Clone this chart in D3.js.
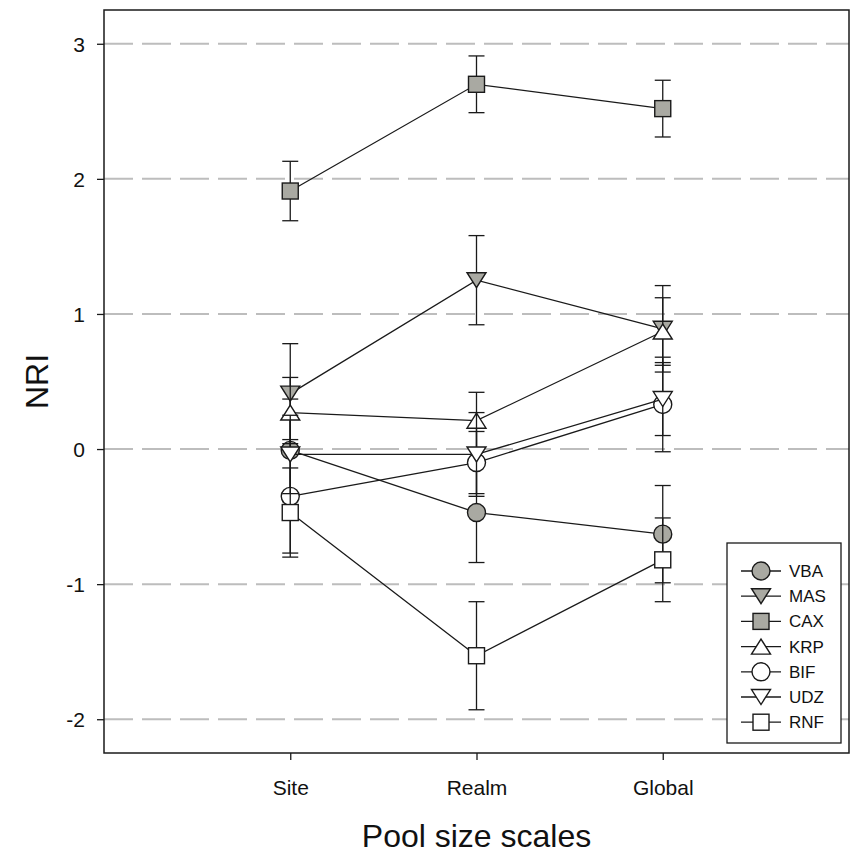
<!DOCTYPE html>
<html>
<head>
<meta charset="utf-8">
<script src="https://cdn.jsdelivr.net/npm/d3@7"></script>
<style>
  body { margin: 0; background: #fff; }
  text { font-family: "Liberation Sans", Arial, sans-serif; }
</style>
</head>
<body>
<svg id="svg" width="853" height="860"></svg>
<script>
const scales = ["Site", "Realm", "Global"];
const names = ["VBA", "MAS", "CAX", "KRP", "BIF", "UDZ", "RNF"];
const shapes = ["circle", "down", "square", "up", "circle", "down", "square"];
const filled = [true, true, true, false, false, false, false];

const vba = [-0.01, -0.47, -0.63];
const vbaErr = [0.38, 0.37, 0.36];
const mas = [0.41, 1.25, 0.89];
const masErr = [0.37, 0.33, 0.32];
const cax = [1.91, 2.70, 2.52];
const caxErr = [0.22, 0.21, 0.21];
const krp = [0.27, 0.21, 0.87];
const krpErr = [0.26, 0.21, 0.25];
const bif = [-0.35, -0.10, 0.33];
const bifErr = [0.42, 0.23, 0.35];
const udz = [-0.04, -0.04, 0.37];
const udzErr = [0.29, 0.31, 0.27];
const rnf = [-0.47, -1.53, -0.82];
const rnfErr = [0.33, 0.40, 0.31];

const yTicks = [-2, -1, 0, 1, 2, 3];

const values = [vba, mas, cax, krp, bif, udz, rnf];
const errors = [vbaErr, masErr, caxErr, krpErr, bifErr, udzErr, rnfErr];

const grey = "#a9a9a2";
const ink = "#1a1a1a";

let svg = d3.select("#svg");
let pLeft = 104, pRight = 849, pTop = 10, pBottom = 753;

let x = d3.scaleLinear().domain([0, 4]).range([pLeft, pRight]);
let y = d3.scaleLinear().domain([-2.25, 3.25]).range([pBottom, pTop]);

// grid lines
svg.append("g").selectAll("line").data(yTicks).join("line")
  .attr("x1", pLeft).attr("x2", pRight)
  .attr("y1", d => y(d)).attr("y2", d => y(d))
  .attr("stroke", "#bdbdbd").attr("stroke-width", 2)
  .attr("stroke-dasharray", "29,9");

// axes
let yAxis = d3.axisLeft(y).tickValues(yTicks).tickSize(7).tickSizeOuter(0).tickFormat(d => String(d));
let gy = svg.append("g").attr("transform", `translate(${pLeft},0)`).call(yAxis);
gy.select(".domain").remove();
gy.selectAll("line").attr("stroke", ink).attr("stroke-width", 1.3);
gy.selectAll("text").attr("x", -19).attr("dy", "0.36em").style("font-size", "21px")
  .style("font-family", "'Liberation Sans', Arial, sans-serif").attr("fill", "#111");

let xAxis = d3.axisBottom(x).tickValues([1, 2, 3]).tickSize(7).tickSizeOuter(0).tickFormat(d => scales[d - 1]);
let gx = svg.append("g").attr("transform", `translate(0,${pBottom})`).call(xAxis);
gx.select(".domain").remove();
gx.selectAll("line").attr("stroke", ink).attr("stroke-width", 1.3);
gx.selectAll("text").attr("y", 27).attr("dy", "0.71em").style("font-size", "21px")
  .style("font-family", "'Liberation Sans', Arial, sans-serif").attr("fill", "#111");

svg.append("rect").attr("x", pLeft).attr("y", pTop).attr("width", pRight - pLeft).attr("height", pBottom - pTop)
  .attr("fill", "none").attr("stroke", ink).attr("stroke-width", 1.5);

svg.append("text").attr("x", (pLeft + pRight) / 2).attr("y", 847).attr("text-anchor", "middle")
  .style("font-size", "32px").attr("fill", "#111").text("Pool size scales");
svg.append("text").attr("transform", `translate(48,${(pTop + pBottom) / 2}) rotate(-90)`).attr("text-anchor", "middle")
  .style("font-size", "32px").attr("fill", "#111").text("NRI");

function marker(g, shape, isFilled, cx, cy) {
  let fill = isFilled ? grey : "#fff";
  let m;
  if (shape === "circle") {
    m = g.append("circle").attr("cx", cx).attr("cy", cy).attr("r", 9);
  } else if (shape === "square") {
    m = g.append("rect").attr("x", cx - 8).attr("y", cy - 8).attr("width", 16).attr("height", 16);
  } else if (shape === "up") {
    m = g.append("path").attr("d", `M${cx - 9.5},${cy + 7.5}L${cx + 9.5},${cy + 7.5}L${cx},${cy - 7.5}Z`);
  } else {
    m = g.append("path").attr("d", `M${cx - 9.5},${cy - 7.5}L${cx + 9.5},${cy - 7.5}L${cx},${cy + 7.5}Z`);
  }
  m.attr("fill", fill).attr("stroke", ink).attr("stroke-width", 1.4);
}

let line = d3.line().x((d, i) => x(i + 1)).y(d => y(d));

for (let s = 0; s < names.length; s++) {
  let g = svg.append("g");
  g.append("path").datum(values[s]).attr("d", line)
    .attr("fill", "none").attr("stroke", ink).attr("stroke-width", 1.3);
  for (let i = 0; i < values[s].length; i++) {
    let cx = x(i + 1);
    let lo = y(values[s][i] - errors[s][i]);
    let hi = y(values[s][i] + errors[s][i]);
    g.append("line").attr("x1", cx).attr("x2", cx).attr("y1", lo).attr("y2", hi)
      .attr("stroke", ink).attr("stroke-width", 1.3);
    g.append("line").attr("x1", cx - 8).attr("x2", cx + 8).attr("y1", lo).attr("y2", lo)
      .attr("stroke", ink).attr("stroke-width", 1.3);
    g.append("line").attr("x1", cx - 8).attr("x2", cx + 8).attr("y1", hi).attr("y2", hi)
      .attr("stroke", ink).attr("stroke-width", 1.3);
  }
  for (let i = 0; i < values[s].length; i++) {
    marker(g, shapes[s], filled[s], x(i + 1), y(values[s][i]));
  }
}

// legend
let lg = svg.append("g");
lg.append("rect").attr("x", 727).attr("y", 543).attr("width", 114).attr("height", 200)
  .attr("fill", "#fff").attr("stroke", ink).attr("stroke-width", 1.3);
for (let s = 0; s < names.length; s++) {
  let ly = 571 + s * 25.2;
  lg.append("line").attr("x1", 741).attr("x2", 781).attr("y1", ly).attr("y2", ly)
    .attr("stroke", ink).attr("stroke-width", 1.3);
  marker(lg, shapes[s], filled[s], 761, ly);
  lg.append("text").attr("x", 789).attr("y", ly + 6).style("font-size", "17px").attr("fill", "#111").text(names[s]);
}
</script>
</body>
</html>
